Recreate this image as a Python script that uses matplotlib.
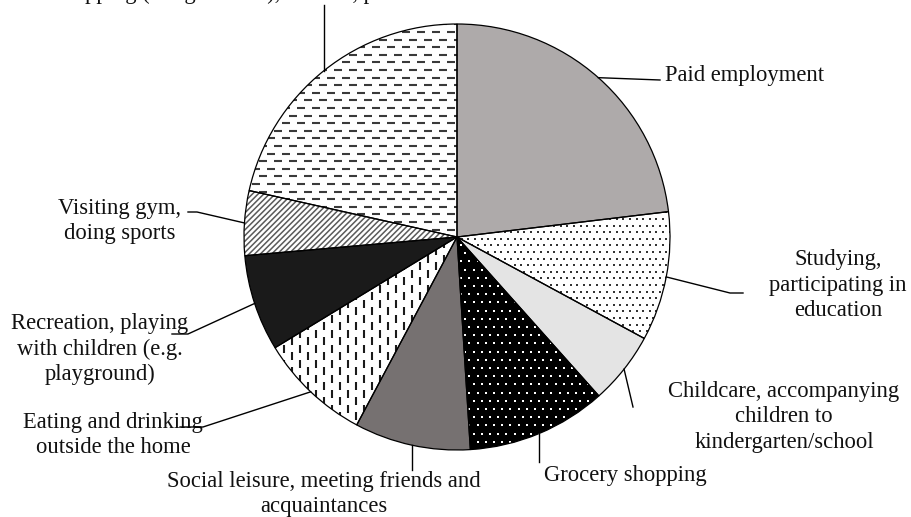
import numpy as np
import matplotlib.pyplot as plt
from matplotlib.collections import LineCollection

plt.rcParams['font.family'] = ['Liberation Serif', 'DejaVu Serif']

# share of trips by activity (%), clockwise from 12 o'clock
activities = [
    "Paid employment",
    "Studying,\nparticipating in\neducation",
    "Childcare, accompanying\nchildren to\nkindergarten/school",
    "Grocery shopping",
    "Social leisure, meeting friends and\nacquaintances",
    "Eating and drinking\noutside the home",
    "Recreation, playing\nwith children (e.g.\nplayground)",
    "Visiting gym,\ndoing sports",
    "Shopping (not groceries), errands, personal services",
]
shares = [23.1, 9.8, 5.5, 10.6, 8.8, 8.5, 7.3, 4.9, 21.5]
face_colors = ["#aeaaaa", "white", "#e4e4e4", "black", "#767171",
               "white", "#1a1a1a", "white", "white"]
textures = [None, "dots", None, "wdots", None, "vdash", None, "diag", "hdash"]

W, H = 911, 517
fig = plt.figure(figsize=(W / 100, H / 100), dpi=100)
ax = fig.add_axes([0, 0, 1, 1])
CX, CY, R = 457, H - 237, 213

wedges, _ = ax.pie(shares, colors=face_colors, startangle=90, counterclock=False,
                   center=(CX, CY), radius=R, frame=True,
                   wedgeprops=dict(linewidth=0))
ax.set_xlim(0, W)
ax.set_ylim(0, H)
ax.set_aspect('equal')
ax.axis('off')


def add_lines(wedge, segs, color, lw):
    lc = LineCollection(segs, colors=color, linewidths=lw, zorder=2)
    ax.add_collection(lc)
    lc.set_clip_path(wedge)


def add_dots(wedge, step, color, size):
    pts = []
    for i, y in enumerate(np.arange(CY - R, CY + R, step)):
        off = (i % 2) * step / 2
        for x in np.arange(CX - R - step + off, CX + R, step):
            pts.append((x, y))
    pts = np.array(pts)
    sc = ax.scatter(pts[:, 0], pts[:, 1], s=size, c=color, marker='s',
                    linewidths=0, zorder=2)
    sc.set_clip_path(wedge)


for wedge, tex in zip(wedges, textures):
    if tex == "hdash":
        segs = []
        for i, y in enumerate(np.arange(CY - R, CY + R, 7.6)):
            off = (i % 2) * 7.5
            for x in np.arange(CX - R - 15 + off, CX + R, 15):
                segs.append([(x, y), (x + 8, y)])
        add_lines(wedge, segs, "#3a3a3a", 1.5)
    elif tex == "vdash":
        segs = []
        for i, x in enumerate(np.arange(CX - R, CX + R, 8)):
            off = (i % 2) * 7.5
            for y in np.arange(CY - R - 15 + off, CY + R, 15):
                segs.append([(x, y), (x, y + 8)])
        add_lines(wedge, segs, "#1a1a1a", 1.5)
    elif tex == "diag":
        segs = [[(CX - R, CY - R + t), (CX + R, CY + R + t)]
                for t in np.arange(-2 * R, 2 * R, 5.66)]
        add_lines(wedge, segs, "#5a5a5a", 1.1)
    elif tex == "dots":
        add_dots(wedge, 6.6, "#333333", 1.6)
    elif tex == "wdots":
        add_dots(wedge, 8.2, "white", 1.8)

# outlines on top of textures
ax.pie(shares, startangle=90, counterclock=False, center=(CX, CY), radius=R,
       frame=True, wedgeprops=dict(fill=False, edgecolor="black",
                                   linewidth=0.9, zorder=3))
ax.set_xlim(0, W)
ax.set_ylim(0, H)
ax.axis('off')

# leader line bends (pixel coords, None = straight down/up from start)
bends = [
    [(660, 80)],
    [(730, 293), (743, 293)],
    [(633, 407)],
    [(None, 462)],
    [(None, 470)],
    [(203, 427), (180, 427)],
    [(188, 334), (172, 334)],
    [(197, 212), (188, 212)],
    [(None, 5)],
]
label_pos = [(665, 76, 'left', 'center'), (838, 285, 'center', 'center'),
             (784, 417, 'center', 'center'), (625, 475, 'center', 'center'),
             (324, 494, 'center', 'center'), (113, 435, 'center', 'center'),
             (100, 349, 'center', 'center'), (120, 221, 'center', 'center'),
             (285, -0.5, 'center', 'baseline')]

for wedge, pts, (lx, ly, ha, va), text in zip(wedges, bends, label_pos, activities):
    ang = np.deg2rad((wedge.theta1 + wedge.theta2) / 2)
    sx, sy = CX + R * np.cos(ang), CY + R * np.sin(ang)
    xs, ys = [sx], [sy]
    for bx, by in pts:
        xs.append(sx if bx is None else bx)
        ys.append(H - by)
    ax.plot(xs, ys, color="black", lw=1.0, zorder=4)
    ax.text(lx, H - ly, text, ha=ha, va=va, multialignment='center',
            fontsize=16.3, linespacing=1.28, color="#111111")

fig.savefig("out.png", dpi=100)
